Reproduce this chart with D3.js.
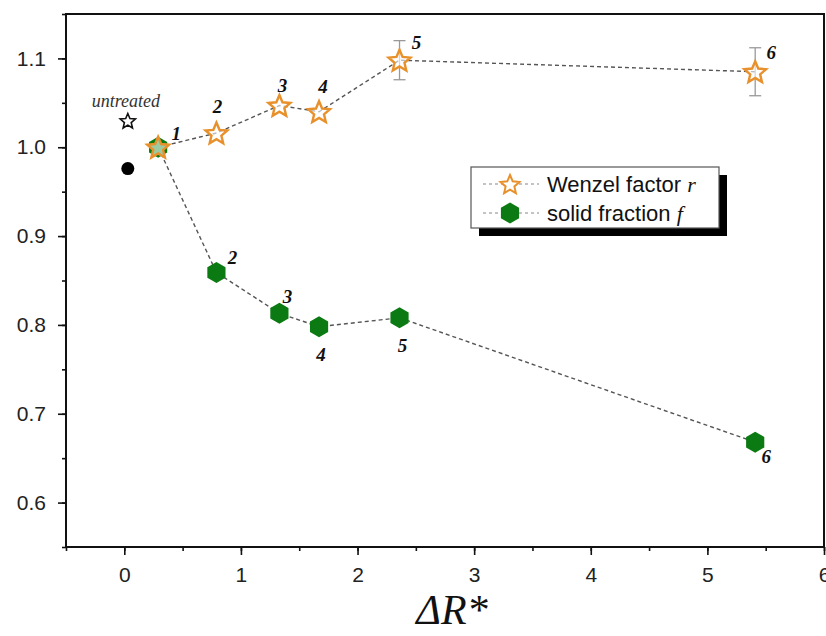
<!DOCTYPE html>
<html>
<head>
<meta charset="utf-8">
<script src="https://cdn.jsdelivr.net/npm/d3@7"></script>
<style>
  body { margin: 0; background: #fff; }
  svg { display: block; }
  .axis text { font-family: "Liberation Sans", Arial, sans-serif; font-size: 21px; fill: #222; }
  .axis path, .axis line { stroke: #111; stroke-width: 1.6px; }
  .num { font-family: "Liberation Serif", "Times New Roman", serif; font-style: italic; font-weight: bold; font-size: 19px; fill: #111; }
</style>
</head>
<body>
<svg id="chart" width="826" height="636"></svg>
<script>
// Дані
var dR = [0.29, 0.79, 1.33, 1.67, 2.36, 5.41];
var wenzel = [1.0, 1.016, 1.047, 1.04, 1.098, 1.085];
var wenzelErr = [0, 0, 0, 0, 0.022, 0.027];
var solid = [1.0, 0.859, 0.813, 0.798, 0.808, 0.668];
var wenzelLabels = ["1", "2", "3", "4", "5", "6"];
var solidLabels = ["", "2", "3", "4", "5", "6"];
var untreatedX = 0.03, untreatedR = 1.029, untreatedF = 0.976;
var xTicks = [0, 1, 2, 3, 4, 5, 6];
var yTicks = [0.6, 0.7, 0.8, 0.9, 1.0, 1.1];

var svg = d3.select("#chart"),
    margin = { top: 14, right: 2, bottom: 89, left: 66 },
    width = 826 - margin.left - margin.right,
    height = 636 - margin.top - margin.bottom;

var x = d3.scaleLinear().domain([-0.5, 6]).range([0, width]),
    y = d3.scaleLinear().domain([0.55, 1.15]).range([height, 0]);

var g = svg.append("g")
    .attr("transform", "translate(" + margin.left + "," + margin.top + ")");

// Рамка
g.append("rect")
    .attr("width", width).attr("height", height)
    .attr("fill", "none").attr("stroke", "#111").attr("stroke-width", 2);

// Дрібні поділки
g.append("g")
    .attr("class", "axis")
    .attr("transform", "translate(0," + height + ")")
    .call(d3.axisBottom(x).tickValues(d3.range(-0.5, 6.01, 0.5)).tickSize(4).tickFormat(""))
    .select(".domain").remove();

g.append("g")
    .attr("class", "axis")
    .call(d3.axisLeft(y).tickValues(d3.range(0.55, 1.151, 0.05)).tickSize(4).tickFormat(""))
    .select(".domain").remove();

// Основні осі
g.append("g")
    .attr("class", "axis")
    .attr("transform", "translate(0," + height + ")")
    .call(d3.axisBottom(x).tickValues(xTicks).tickSize(8).tickPadding(12).tickFormat(d3.format("d")))
    .select(".domain").remove();

g.append("g")
    .attr("class", "axis")
    .call(d3.axisLeft(y).tickValues(yTicks).tickSize(8).tickPadding(12).tickFormat(d3.format(".1f")))
    .select(".domain").remove();

// Підпис осі X
svg.append("text")
    .attr("x", 452).attr("y", 624)
    .attr("text-anchor", "middle")
    .style("font-family", "'Liberation Serif', 'Times New Roman', serif")
    .style("font-style", "italic")
    .style("font-size", "42px")
    .attr("fill", "#111")
    .text("ΔR*");

// Форми маркерів
function starPath(ro, ri) {
    var pts = [];
    for (var i = 0; i < 10; i++) {
        var r = i % 2 === 0 ? ro : ri,
            a = -Math.PI / 2 + i * Math.PI / 5;
        pts.push([r * Math.cos(a), r * Math.sin(a)]);
    }
    return "M" + pts.join("L") + "Z";
}
function hexPath(r) {
    var pts = [];
    for (var i = 0; i < 6; i++) {
        var a = -Math.PI / 2 + i * Math.PI / 3;
        pts.push([r * Math.cos(a), r * Math.sin(a)]);
    }
    return "M" + pts.join("L") + "Z";
}

var line = d3.line()
    .x(function (d) { return x(d[0]); })
    .y(function (d) { return y(d[1]); });

var wData = dR.map(function (d, i) { return [d, wenzel[i], wenzelErr[i], wenzelLabels[i]]; }),
    sData = dR.map(function (d, i) { return [d, solid[i], 0, solidLabels[i]]; });

// Лінії
[wData, sData].forEach(function (data) {
    g.append("path")
        .datum(data)
        .attr("d", line)
        .attr("fill", "none")
        .attr("stroke", "#555")
        .attr("stroke-width", 1.4)
        .attr("stroke-dasharray", "4,3");
});

// Похибки
var eb = g.selectAll(".err")
    .data(wData.filter(function (d) { return d[2] > 0; }))
    .enter().append("g").attr("class", "err")
    .attr("stroke", "#999").attr("stroke-width", 1.3);
eb.append("line")
    .attr("x1", function (d) { return x(d[0]); }).attr("x2", function (d) { return x(d[0]); })
    .attr("y1", function (d) { return y(d[1] - d[2]); }).attr("y2", function (d) { return y(d[1] + d[2]); });
[-1, 1].forEach(function (s) {
    eb.append("line")
        .attr("x1", function (d) { return x(d[0]) - 6; }).attr("x2", function (d) { return x(d[0]) + 6; })
        .attr("y1", function (d) { return y(d[1] + s * d[2]); }).attr("y2", function (d) { return y(d[1] + s * d[2]); });
});

// Шестикутники
g.selectAll(".hex")
    .data(sData)
    .enter().append("path")
    .attr("class", "hex")
    .attr("d", hexPath(10.5))
    .attr("transform", function (d) { return "translate(" + x(d[0]) + "," + y(d[1]) + ")"; })
    .attr("fill", "#0b7a12");

// Зірки
g.selectAll(".star")
    .data(wData)
    .enter().append("path")
    .attr("class", "star")
    .attr("d", starPath(11.5, 5.2))
    .attr("transform", function (d) { return "translate(" + x(d[0]) + "," + (y(d[1]) + 1) + ")"; })
    .attr("fill", "#fff").attr("fill-opacity", 0.6)
    .attr("stroke", "#e8912c").attr("stroke-width", 2.4);

// Необроблений зразок
g.append("path")
    .attr("d", starPath(8, 3.6))
    .attr("transform", "translate(" + x(untreatedX) + "," + y(untreatedR) + ")")
    .attr("fill", "#fff").attr("stroke", "#111").attr("stroke-width", 1.6);
g.append("circle")
    .attr("cx", x(untreatedX)).attr("cy", y(untreatedF)).attr("r", 6.5)
    .attr("fill", "#000");
g.append("text")
    .attr("x", x(untreatedX) - 2).attr("y", y(untreatedR) - 14)
    .attr("text-anchor", "middle")
    .style("font-family", "'Liberation Serif', 'Times New Roman', serif")
    .style("font-style", "italic")
    .style("font-size", "18px")
    .attr("fill", "#333")
    .text("untreated");

// Номери точок
var wOff = [[18, -14], [1, -27], [3, -20], [4, -25], [17, -18], [16, -19]],
    sOff = [[0, 0], [16, -15], [8, -17], [2, 28], [3, 28], [11, 14]];
g.selectAll(".wlab")
    .data(wData)
    .enter().append("text")
    .attr("class", "num")
    .attr("x", function (d, i) { return x(d[0]) + wOff[i][0]; })
    .attr("y", function (d, i) { return y(d[1]) + wOff[i][1]; })
    .attr("text-anchor", "middle").attr("dy", "0.35em")
    .text(function (d) { return d[3]; });
g.selectAll(".slab")
    .data(sData)
    .enter().append("text")
    .attr("class", "num")
    .attr("x", function (d, i) { return x(d[0]) + sOff[i][0]; })
    .attr("y", function (d, i) { return y(d[1]) + sOff[i][1]; })
    .attr("text-anchor", "middle").attr("dy", "0.35em")
    .text(function (d) { return d[3]; });

// Легенда
var lg = svg.append("g").attr("transform", "translate(471,167)");
lg.append("rect").attr("x", 8).attr("y", 8).attr("width", 248).attr("height", 61).attr("fill", "#000");
lg.append("rect").attr("width", 248).attr("height", 61).attr("fill", "#fff").attr("stroke", "#555").attr("stroke-width", 1.2);
var items = [
    { y: 17, name: "Wenzel factor ", sym: "r", star: true },
    { y: 46, name: "solid fraction ", sym: "f", star: false }
];
items.forEach(function (it) {
    lg.append("line").attr("x1", 12).attr("x2", 68).attr("y1", it.y).attr("y2", it.y)
        .attr("stroke", "#888").attr("stroke-width", 1.2).attr("stroke-dasharray", "3,3");
    if (it.star) {
        lg.append("path").attr("d", starPath(10, 4.6))
            .attr("transform", "translate(39," + (it.y + 1) + ")")
            .attr("fill", "#fff").attr("stroke", "#e8912c").attr("stroke-width", 2);
    } else {
        lg.append("path").attr("d", hexPath(10.5))
            .attr("transform", "translate(39," + it.y + ")")
            .attr("fill", "#0b7a12");
    }
    var t = lg.append("text").attr("x", 76).attr("y", it.y).attr("dy", "0.35em")
        .style("font-family", "'Liberation Sans', Arial, sans-serif")
        .style("font-size", "22px").attr("fill", "#111");
    t.append("tspan").text(it.name);
    t.append("tspan")
        .style("font-family", "'Liberation Serif', 'Times New Roman', serif")
        .style("font-style", "italic")
        .text(it.sym);
});
</script>
</body>
</html>
